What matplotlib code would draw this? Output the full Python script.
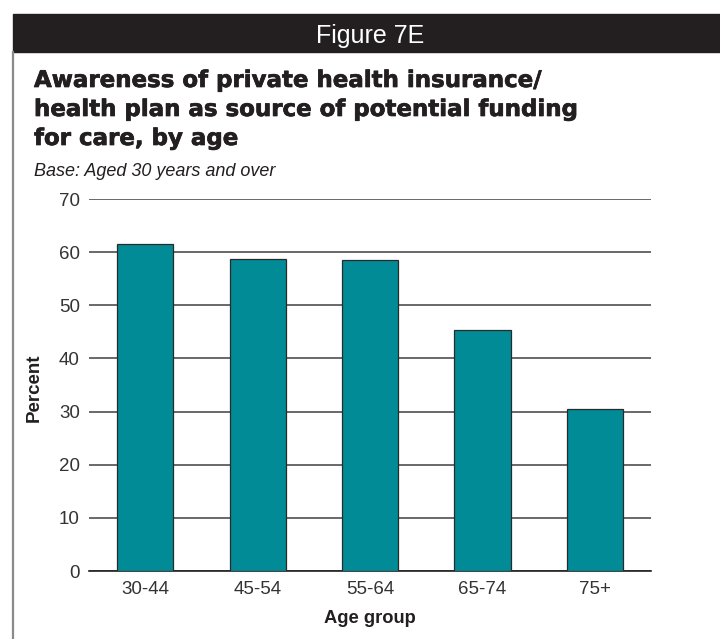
import matplotlib
matplotlib.use("Agg")
import matplotlib.pyplot as plt
import matplotlib.patheffects as pe
from matplotlib.patches import Rectangle
from matplotlib.lines import Line2D

# awareness of private health insurance as a funding source, by age group
age_groups = ["30-44", "45-54", "55-64", "65-74", "75+"]
percent = [61.5, 58.8, 58.5, 45.4, 30.5]
y_ticks = [0, 10, 20, 30, 40, 50, 60, 70]

title_lines = ["Awareness of private health insurance/",
               "health plan as source of potential funding",
               "for care, by age"]

ink = "#231f20"
teal = "#008b96"
W, H = 720, 639

plt.rcParams["font.family"] = ["Liberation Sans", "DejaVu Sans"]

fig = plt.figure(figsize=(7.2, 6.39), dpi=100)

# black header band and the thin frame line on the left
fig.patches.append(Rectangle((12.5 / W, 1 - 52 / H), 1.0, 38 / H,
                             transform=fig.transFigure, color=ink, zorder=0))
fig.lines.append(Line2D([13 / W, 13 / W], [0, 1 - 52 / H],
                        transform=fig.transFigure, color="#8a8a8a", lw=1.6))
fig.text(370 / W, 1 - 43 / H, "Figure 7E", color="white", fontsize=18,
         ha="center", va="baseline")

# heavy title, thickened a little with a stroke of the same colour
for i, line in enumerate(title_lines):
    fig.text(34 / W, 1 - (87 + 29 * i) / H, line, color=ink,
             fontsize=16.5, fontweight="bold", family="DejaVu Sans",
             ha="left", va="baseline",
             path_effects=[pe.withStroke(linewidth=0.5, foreground=ink)])
fig.text(34 / W, 1 - 176 / H, "Base: Aged 30 years and over",
         color=ink, fontsize=13, style="italic", ha="left", va="baseline")

ax = fig.add_axes([89 / W, 1 - 571 / H, 562 / W, 372 / H])
x = range(len(age_groups))
ax.bar(x, percent, width=0.5, color=teal, edgecolor="#2a2a2a",
       linewidth=0.9, zorder=3)

ax.set_xlim(-0.5, len(age_groups) - 0.5)
ax.set_ylim(0, 70)
ax.set_yticks(y_ticks)
ax.set_xticks(list(x))
ax.set_xticklabels(age_groups)
ax.yaxis.grid(True, color="#404040", linewidth=1.1, zorder=0)
ax.set_axisbelow(True)
for side in ["left", "right", "top"]:
    ax.spines[side].set_visible(False)
ax.spines["bottom"].set_color(ink)
ax.spines["bottom"].set_linewidth(1.2)
ax.tick_params(axis="both", length=0, labelsize=13.5, colors="#333333")
ax.tick_params(axis="y", pad=6.5)
ax.tick_params(axis="x", pad=7.5)

ax.set_xlabel("Age group", fontsize=13.2, fontweight="bold", color=ink)
ax.xaxis.set_label_coords(0.5, -0.105)
ax.set_ylabel("Percent", fontsize=13.5, fontweight="bold", color=ink)
ax.yaxis.set_label_coords(-0.083, 0.492)

plt.savefig("out.png", dpi=100)
